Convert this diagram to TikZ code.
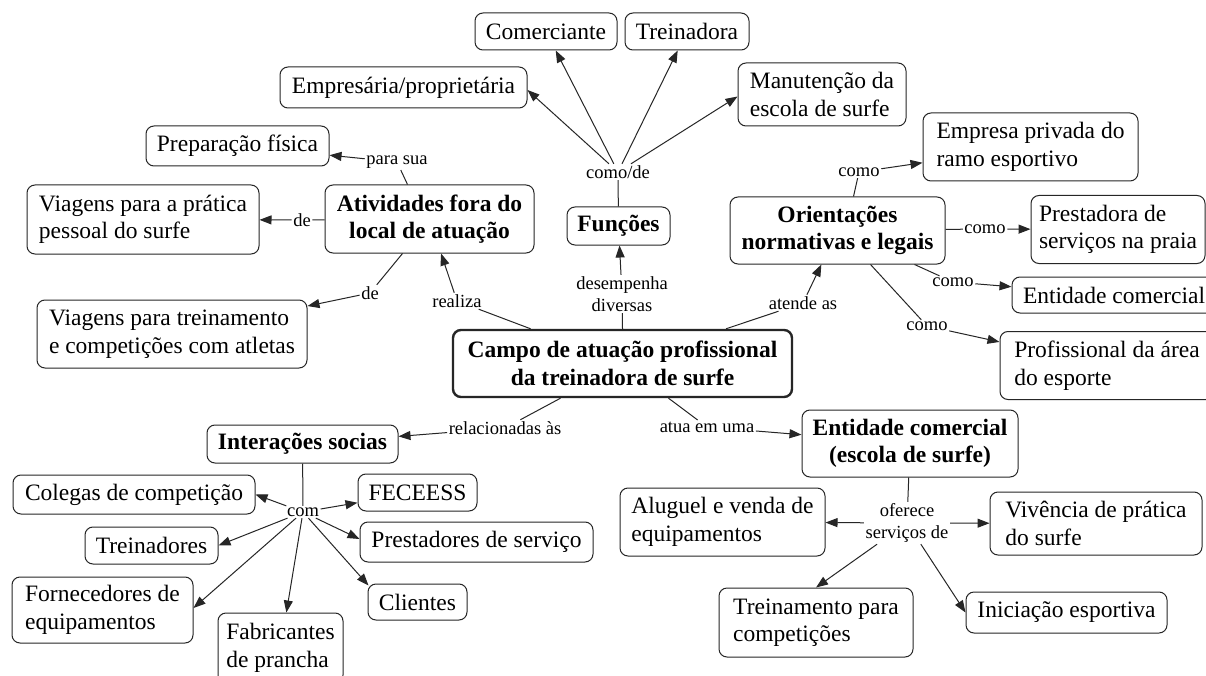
\documentclass[tikz,border=0pt]{standalone}
\usepackage{fontspec}
\setmainfont{Liberation Serif}
\usetikzlibrary{arrows.meta}
\tikzset{
  box/.style={draw=black!85, rounded corners=8pt, line width=1pt, inner sep=0pt, align=left,
    font=\fontsize{23.5pt}{27.5pt}\selectfont},
  bbox/.style={box, align=center, font=\bfseries\fontsize{23.5pt}{27.5pt}\selectfont},
  lab/.style={inner sep=1.5pt, align=center, font=\fontsize{18.5pt}{22pt}\selectfont},
  con/.style={line width=1pt, draw=black!85},
  arr/.style={con, -{Triangle[length=12pt,width=9pt]}},
}
\begin{document}
\begin{tikzpicture}[x=1pt,y=-1pt]
\useasboundingbox (0,0) rectangle (1206,676);
\fill[white] (0,0) rectangle (1206,676);
% --- concept boxes
\node[box,minimum width=142pt,minimum height=37pt] (com) at (546,31.5) {Comerciante};
\node[box,minimum width=124pt,minimum height=37pt] (trn) at (687,31.5) {Treinadora};
\node[box,minimum width=247pt,minimum height=41pt] (emp) at (403.5,87.5) {Empresária/proprietária};
\node[box,minimum width=168pt,minimum height=63pt] (man) at (822,94.5) {Manutenção da\\escola de surfe};
\node[box,minimum width=183pt,minimum height=40pt] (prep) at (237.5,146) {Preparação física};
\node[box,minimum width=232pt,minimum height=69pt] (vpes) at (143,219.5) {Viagens para a prática\\pessoal do surfe};
\node[bbox,minimum width=209pt,minimum height=68pt] (ativ) at (429.5,219) {Atividades fora do\\local de atuação};
\node[bbox,minimum width=103pt,minimum height=38pt] (fun) at (618.5,226) {Funções};
\node[bbox,minimum width=215pt,minimum height=67pt] (ori) at (837.5,230.5) {Orientações\\normativas e legais};
\node[box,minimum width=215pt,minimum height=68pt] (epr) at (1030.5,147) {Empresa privada do\\ramo esportivo};
\node[box,minimum width=174pt,minimum height=68pt] (pre) at (1118,229.5) {Prestadora de\\serviços na praia};
\node[box,minimum width=204pt,minimum height=36pt] (ent) at (1114,295) {Entidade comercial};
\node[box,minimum width=214pt,minimum height=68pt] (prof) at (1107,365.5) {Profissional da área\\do esporte};
\node[box,minimum width=270pt,minimum height=68pt] (vtre) at (172,334) {Viagens para treinamento\\e competições com atletas};
\node[bbox,line width=2.4pt,minimum width=339pt,minimum height=67pt] (campo) at (622.5,363.5) {Campo de atuação profissional\\da treinadora de surfe};
\node[bbox,minimum width=191pt,minimum height=38pt] (inter) at (302.5,444) {Interações socias};
\node[bbox,minimum width=216pt,minimum height=67pt] (esc) at (910,443.5) {Entidade comercial\\(escola de surfe)};
\node[box,minimum width=242pt,minimum height=39pt] (col) at (134,494.5) {Colegas de competição};
\node[box,minimum width=133pt,minimum height=37pt] (trs) at (151.5,545.5) {Treinadores};
\node[box,minimum width=181pt,minimum height=66pt] (forn) at (102.5,610) {Fornecedores de\\equipamentos};
\node[box,minimum width=125pt,minimum height=70pt] (fab) at (280.5,648) {Fabricantes\\de prancha};
\node[box,minimum width=119pt,minimum height=37pt] (fec) at (417.5,492.5) {FECEESS};
\node[box,minimum width=233pt,minimum height=40pt] (prs) at (476.5,542) {Prestadores de serviço};
\node[box,minimum width=99pt,minimum height=36pt] (cli) at (417.5,602) {Clientes};
\node[box,minimum width=205pt,minimum height=68pt] (alu) at (722.5,522) {Aluguel e venda de\\equipamentos};
\node[box,minimum width=212pt,minimum height=63pt] (viv) at (1096,523.5) {Vivência de prática\\do surfe};
\node[box,minimum width=194pt,minimum height=69pt] (tpc) at (816,622.5) {Treinamento para\\competições};
\node[box,minimum width=201pt,minimum height=41pt] (ini) at (1066.5,612.5) {Iniciação esportiva};
% --- linking phrases
\node[lab] (lcomode) at (618,172) {como/de};
\node[lab] (lpara) at (397,162) {para sua};
\node[lab] (lde1) at (302,220) {de};
\node[lab] (lde2) at (370,293) {de};
\node[lab] (lreal) at (457,301) {realiza};
\node[lab] (ldes) at (622,294) {desempenha\\diversas};
\node[lab] (laten) at (803,303) {atende as};
\node[lab] (lc1) at (859,172) {como};
\node[lab] (lc2) at (985,229) {como};
\node[lab] (lc3) at (953,282) {como};
\node[lab] (lc4) at (927,326) {como};
\node[lab] (lrel) at (505,428) {relacionadas às};
\node[lab] (latua) at (707,427) {atua em uma};
\node[lab] (lcom) at (303,512) {com};
\node[lab] (lofe) at (907,523) {oferece\\serviços de};
% --- connectors
\draw[con] (fun) -- (lcomode);
\draw[arr] (lcomode) -- ([yshift=-2.5pt]emp.east);
\draw[arr] (lcomode) -- (com);
\draw[arr] (lcomode) -- (trn);
\draw[arr] (lcomode) -- ([yshift=-2pt]man.west);
\draw[con] (ativ.north west) ++(83,0) coordinate (atn) -- (lpara);
\draw[arr] (lpara) -- (prep);
\draw[con] (ativ) -- (lde1);
\draw[arr] (lde1) -- (vpes);
\draw[con] (ativ.south west) ++(78,0) coordinate (ats) -- (lde2);
\draw[arr] (lde2) -- (vtre);
\draw[con] (campo) -- (lreal);
\draw[arr] (lreal) -- (ativ);
\draw[con] (campo.north) -- (ldes);
\draw[arr] (ldes) -- (fun);
\draw[con] (campo) -- (laten);
\draw[arr] (laten) -- (ori);
\draw[con] (ori.north) ++(16,0) coordinate (orn) -- (lc1);
\draw[arr] (lc1) -- (epr);
\draw[con] (ori) -- (lc2);
\draw[arr] (lc2) -- (pre);
\draw[con] (ori.south) ++(77,0) coordinate (ors) -- (lc3);
\draw[arr] (lc3) -- (ent);
\draw[con] (ori.south) ++(33,0) coordinate (ors2) -- (lc4);
\draw[arr] (lc4) -- (prof);
\draw[con] (campo.south) ++(-62,0) coordinate (cs1) -- (lrel);
\draw[arr] (lrel) -- (inter);
\draw[con] (campo.south) ++(46,0) coordinate (cs2) -- (latua);
\draw[arr] (latua) -- (esc);
\draw[con] (inter) -- (lcom);
\draw[arr] (lcom) -- (col.east);
\draw[arr] (lcom) -- (fec);
\draw[arr] (lcom) -- (trs.east);
\draw[arr] (lcom) -- ([yshift=3pt]prs.west);
\draw[arr] (lcom) -- ([yshift=2pt]forn.east);
\draw[arr] (lcom) -- (fab);
\draw[arr] (lcom) -- ([xshift=1pt,yshift=-2pt]cli.north west);
\draw[con] (esc) -- (lofe);
\draw[arr] (lofe) -- (alu);
\draw[arr] (lofe) -- (viv);
\draw[arr] (lofe) -- (tpc.north);
\draw[arr] (lofe) -- (ini.west);
\end{tikzpicture}
\end{document}
